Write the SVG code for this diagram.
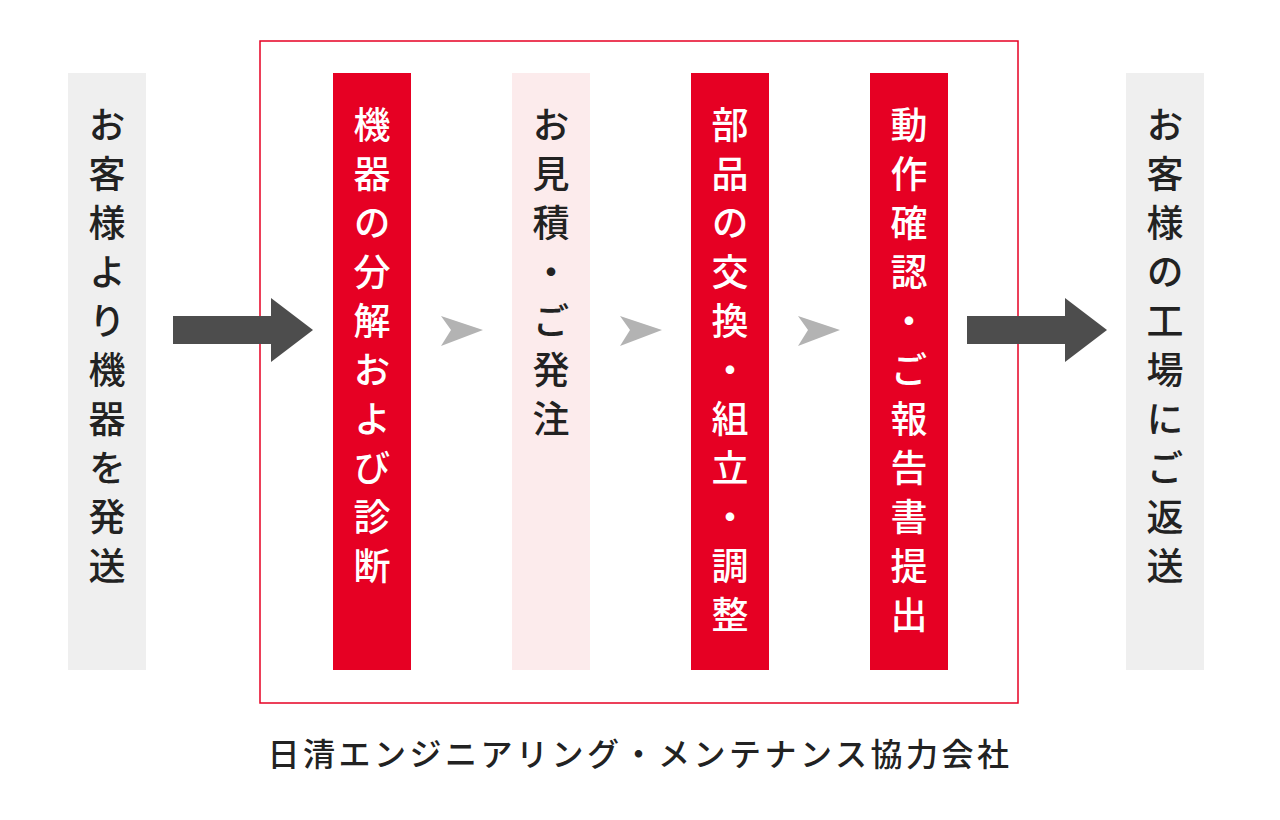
<svg xmlns="http://www.w3.org/2000/svg" width="1280" height="820" viewBox="0 0 1280 820">
<style>
.v{font-family:"Noto Sans CJK JP",sans-serif;font-size:37px;font-weight:500;writing-mode:vertical-rl;letter-spacing:12px}
.w{fill:#fff}.d{fill:#222}
</style>
<rect width="1280" height="820" fill="#fff"/>
<rect x="260" y="41" width="758" height="662" fill="none" stroke="#e60023" stroke-width="1.5"/>
<g id="n1"><rect x="68" y="73" width="78" height="597" fill="#efefef"/><text class="v d" x="107" y="106">お客様より機器を発送</text></g>
<g id="n2"><rect x="333" y="73" width="78" height="597" fill="#e60023"/><text class="v w" x="372" y="106">機器の分解および診断</text></g>
<g id="n3"><rect x="512" y="73" width="78" height="597" fill="#fcebec"/><text class="v d" x="551" y="106">お見積・ご発注</text></g>
<g id="n4"><rect x="691" y="73" width="78" height="597" fill="#e60023"/><text class="v w" x="730" y="106">部品の交換・組立・調整</text></g>
<g id="n5"><rect x="870" y="73" width="78" height="597" fill="#e60023"/><text class="v w" x="909" y="106">動作確認・ご報告書提出</text></g>
<g id="n6"><rect x="1126" y="73" width="78" height="597" fill="#efefef"/><text class="v d" x="1165" y="106">お客様の工場にご返送</text></g>
<g id="connectors">
<polygon points="173,316 271,316 271,298 313,330 271,362 271,344 173,344" fill="#4d4d4d"/>
<polygon points="967,316 1065,316 1065,298 1107,330 1065,362 1065,344 967,344" fill="#4d4d4d"/>
<polygon points="441,316 483,330 441,346 451,330" fill="#b3b3b3"/>
<polygon points="620,316 662,330 620,346 630,330" fill="#b3b3b3"/>
<polygon points="798,316 840,330 798,346 808,330" fill="#b3b3b3"/>
</g>
<text x="640" y="766" text-anchor="middle" font-family="Noto Sans CJK JP,sans-serif" font-size="32" font-weight="500" letter-spacing="3.5" fill="#222">日清エンジニアリング・メンテナンス協力会社</text>
</svg>
